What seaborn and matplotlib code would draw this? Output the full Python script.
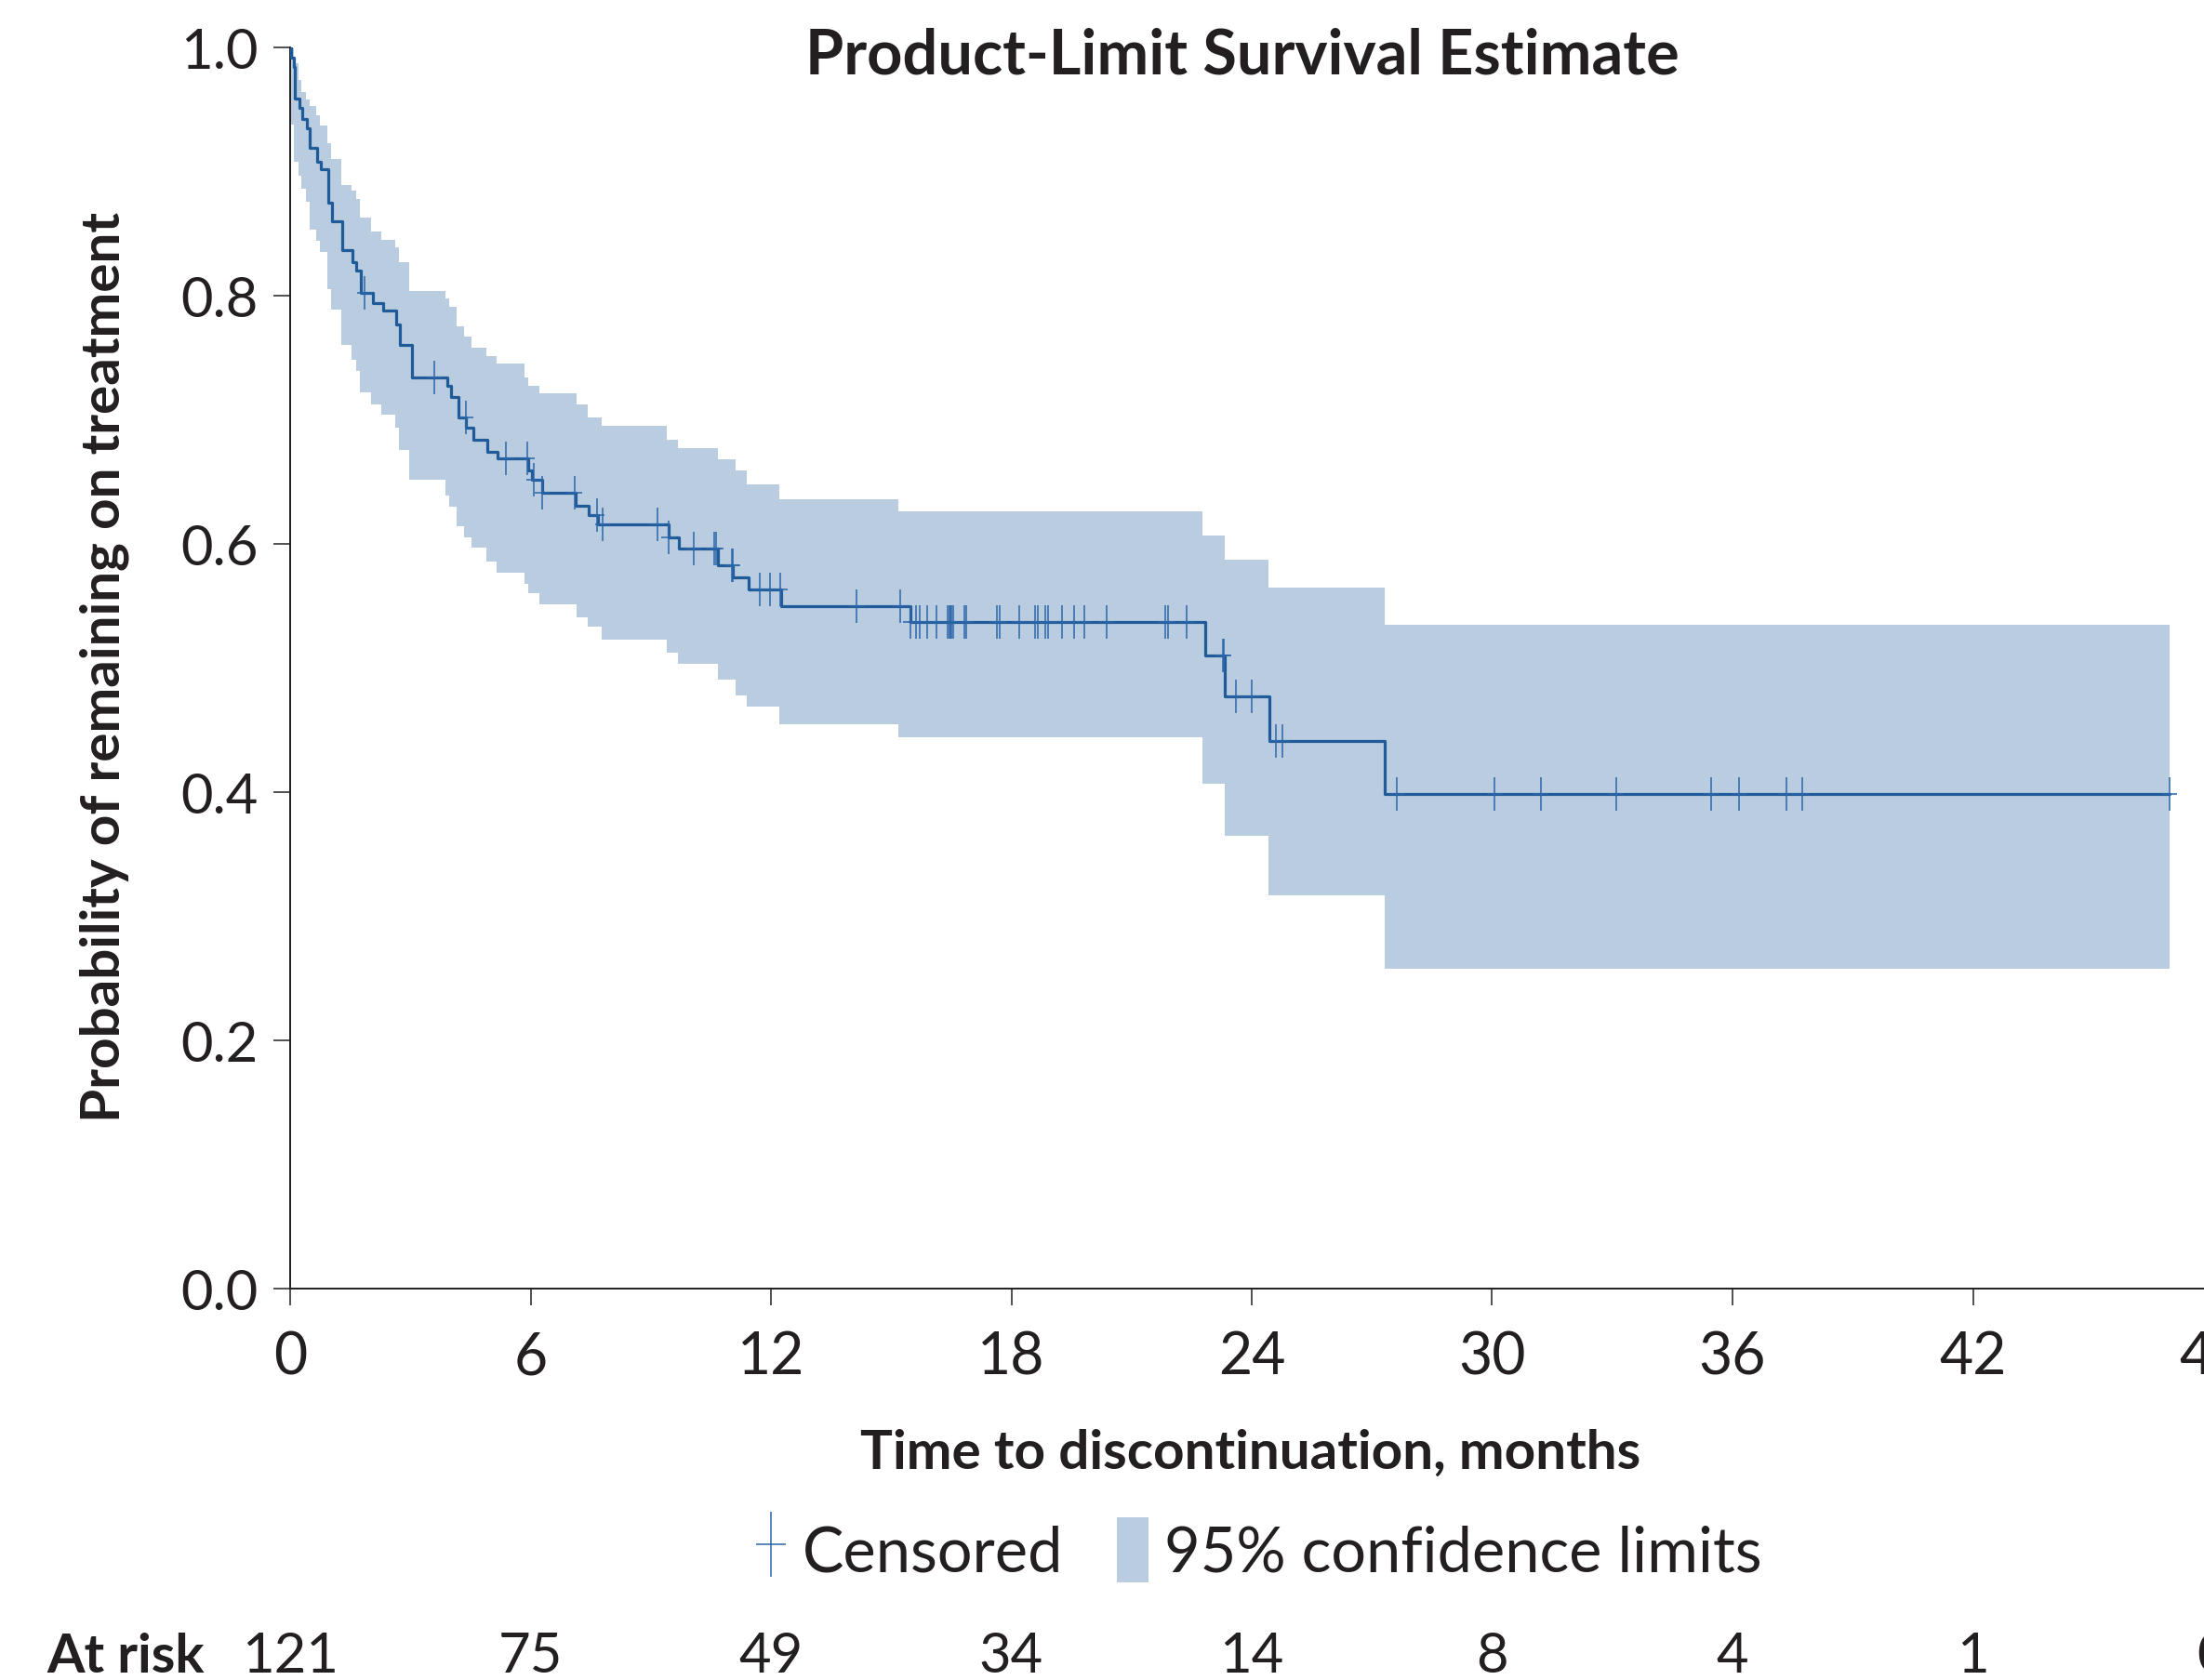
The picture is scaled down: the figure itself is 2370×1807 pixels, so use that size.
import numpy as np
import matplotlib
matplotlib.use("Agg")
import matplotlib.pyplot as plt
import seaborn as sns
from matplotlib.path import Path
from matplotlib.lines import Line2D
from matplotlib.patches import Patch
from matplotlib.transforms import blended_transform_factory

# Kaplan-Meier step curve (time in months, survival probability)
km_t = [0, 0.02, 0.09, 0.11, 0.24, 0.30, 0.41, 0.49, 0.67, 0.77, 0.95, 1.05, 1.30, 1.56, 1.64,
        1.76, 2.06, 2.32, 2.64, 2.74, 3.03, 3.93, 4.02, 4.19, 4.39, 4.58, 4.91, 5.18, 5.94, 6.03,
        6.28, 7.12, 7.44, 7.69, 9.45, 9.70, 10.67, 11.05, 11.44, 12.26, 15.48, 22.84, 23.32,
        24.44, 27.33, 46.92]
km_s = [1.0, 0.992, 0.984, 0.959, 0.951, 0.942, 0.935, 0.919, 0.908, 0.902, 0.875, 0.860, 0.837,
        0.827, 0.820, 0.802, 0.794, 0.788, 0.777, 0.760, 0.734, 0.727, 0.718, 0.702, 0.694, 0.684,
        0.674, 0.669, 0.659, 0.652, 0.641, 0.631, 0.623, 0.616, 0.605, 0.596, 0.583, 0.573, 0.563,
        0.550, 0.537, 0.510, 0.477, 0.441, 0.3985, 0.3985]

# 95% confidence band steps
band_t = [0, 0.09, 0.20, 0.28, 0.40, 0.49, 0.64, 0.75, 0.92, 1.03, 1.28, 1.54, 1.64, 1.74, 2.02,
          2.27, 2.62, 2.71, 2.98, 3.87, 3.98, 4.15, 4.34, 4.52, 4.89, 5.15, 5.86, 5.95, 6.21,
          7.14, 7.43, 7.77, 9.40, 9.67, 10.67, 11.12, 11.40, 12.20, 15.18, 22.76, 23.32, 24.41,
          27.31, 46.92]
band_up = [0.999, 0.987, 0.974, 0.964, 0.958, 0.953, 0.945, 0.937, 0.923, 0.910, 0.889, 0.885,
           0.878, 0.863, 0.852, 0.845, 0.839, 0.827, 0.804, 0.798, 0.791, 0.775, 0.767, 0.758,
           0.751, 0.745, 0.734, 0.727, 0.721, 0.712, 0.702, 0.695, 0.684, 0.677, 0.668, 0.659,
           0.648, 0.636, 0.626, 0.607, 0.587, 0.565, 0.535, 0.535]
band_lo = [0.938, 0.908, 0.897, 0.886, 0.876, 0.853, 0.844, 0.835, 0.805, 0.789, 0.760, 0.748,
           0.739, 0.722, 0.712, 0.704, 0.694, 0.676, 0.652, 0.639, 0.630, 0.614, 0.605, 0.597,
           0.586, 0.577, 0.568, 0.560, 0.551, 0.541, 0.533, 0.523, 0.512, 0.503, 0.491, 0.478,
           0.469, 0.455, 0.444, 0.407, 0.365, 0.317, 0.258, 0.258]

# censored observations (months)
cens_t = [1.86, 3.59, 4.38, 5.39, 5.93, 6.08, 6.28, 7.11, 7.65, 7.80, 9.17, 9.45, 10.07, 10.59,
          10.62, 11.02, 11.04, 11.72, 11.97, 12.24, 14.14, 15.23, 15.49, 15.63, 15.72, 15.89,
          16.13, 16.40, 16.45, 16.48, 16.51, 16.56, 16.82, 16.88, 17.64, 17.70, 18.20, 18.59,
          18.65, 18.85, 18.91, 19.27, 19.56, 19.82, 20.38, 21.84, 21.90, 22.37, 23.27, 23.30,
          23.61, 23.99, 24.61, 24.76, 27.62, 30.05, 31.23, 33.10, 35.46, 36.17, 37.34, 37.75,
          46.92]

x_ticks = [0, 6, 12, 18, 24, 30, 36, 42, 48]
at_risk = [121, 75, 49, 34, 14, 8, 4, 1, 0]

LINE = "#1F5A99"
MARK = "#2B65A8"
BAND = "#B9CCE0"
INK = "#231F20"

sns.set_style("ticks")
FONT = ["Lato", "DejaVu Sans"]
plt.rcParams["font.family"] = FONT

W, H = 2370, 1808
fig = plt.figure(figsize=(W / 100, H / 100), dpi=100)
ax = fig.add_axes([312 / W, 1 - 1387 / H, 2068 / W, 1335 / H])

ax.fill_between(band_t, band_lo, band_up, step="post", color=BAND, linewidth=0, zorder=1)
sns.lineplot(x=km_t, y=km_s, drawstyle="steps-post", color=LINE, linewidth=2.3,
             estimator=None, ax=ax, zorder=3)

# censor marks: '+' with a short horizontal arm
plus = Path([(0, -1), (0, 1), (-0.47, 0), (0.47, 0)],
            [Path.MOVETO, Path.LINETO, Path.MOVETO, Path.LINETO])
idx = np.searchsorted(km_t, cens_t, side="right") - 1
cens_s = np.array(km_s)[idx]
ax.plot(cens_t, cens_s, linestyle="none", marker=plus, markersize=26,
        markerfacecolor="none", markeredgecolor=MARK, markeredgewidth=1.1, zorder=4)

ax.set_xlim(0, 48)
ax.set_ylim(0, 1)
ax.set_xticks(x_ticks)
ax.set_yticks([0, 0.2, 0.4, 0.6, 0.8, 1.0])
ax.set_yticklabels(["0.0", "0.2", "0.4", "0.6", "0.8", "1.0"])
sns.despine(ax=ax)
for s in ["left", "bottom"]:
    ax.spines[s].set_linewidth(1.4)
    ax.spines[s].set_color(INK)
ax.tick_params(axis="both", length=13, width=1.1, color=INK, labelcolor=INK)
ax.tick_params(axis="y", pad=12, labelsize=43)
ax.tick_params(axis="x", pad=19, labelsize=45)
ax.set_xlabel("")
ax.set_ylabel("")

fig.text(0.5637, 1 - 79 / H, "Product-Limit Survival Estimate", ha="center", va="baseline",
         fontsize=48, fontweight="bold", color=INK)
fig.text(1345 / W, 1 - 1580 / H, "Time to discontinuation, months", ha="center", va="baseline",
         fontsize=42, fontweight="bold", color=INK)
fig.text(112 / W, 1 - 718 / H, "Probability of remaining on treatment", ha="center", va="center",
         rotation=90, fontsize=42, fontweight="bold", color=INK)

# legend
handles = [
    Line2D([], [], linestyle="none", marker=plus, markersize=50, markerfacecolor="none",
           markeredgecolor=MARK, markeredgewidth=1.1, label="Censored"),
    Patch(facecolor=BAND, edgecolor="none", label="95% confidence limits"),
]
fig.legend(handles=handles, loc="center", bbox_to_anchor=(0.571, 1 - 1668 / H), ncol=2,
           frameon=False, prop={"size": 48}, handlelength=0.52,
           handleheight=1.22, handletextpad=0.25, columnspacing=0.85, labelcolor=INK)

# number at risk row
tr = blended_transform_factory(ax.transData, fig.transFigure)
fig.text(50 / W, 1 - 1799 / H, "At risk", ha="left", va="baseline", fontsize=42,
         fontweight="bold", color=INK)
for t, n in zip(x_ticks, at_risk):
    ax.text(t, 1 - 1799 / H, str(n), transform=tr, ha="center", va="baseline", fontsize=43,
            color=INK, clip_on=False)

fig.savefig("out.png", dpi=100)
